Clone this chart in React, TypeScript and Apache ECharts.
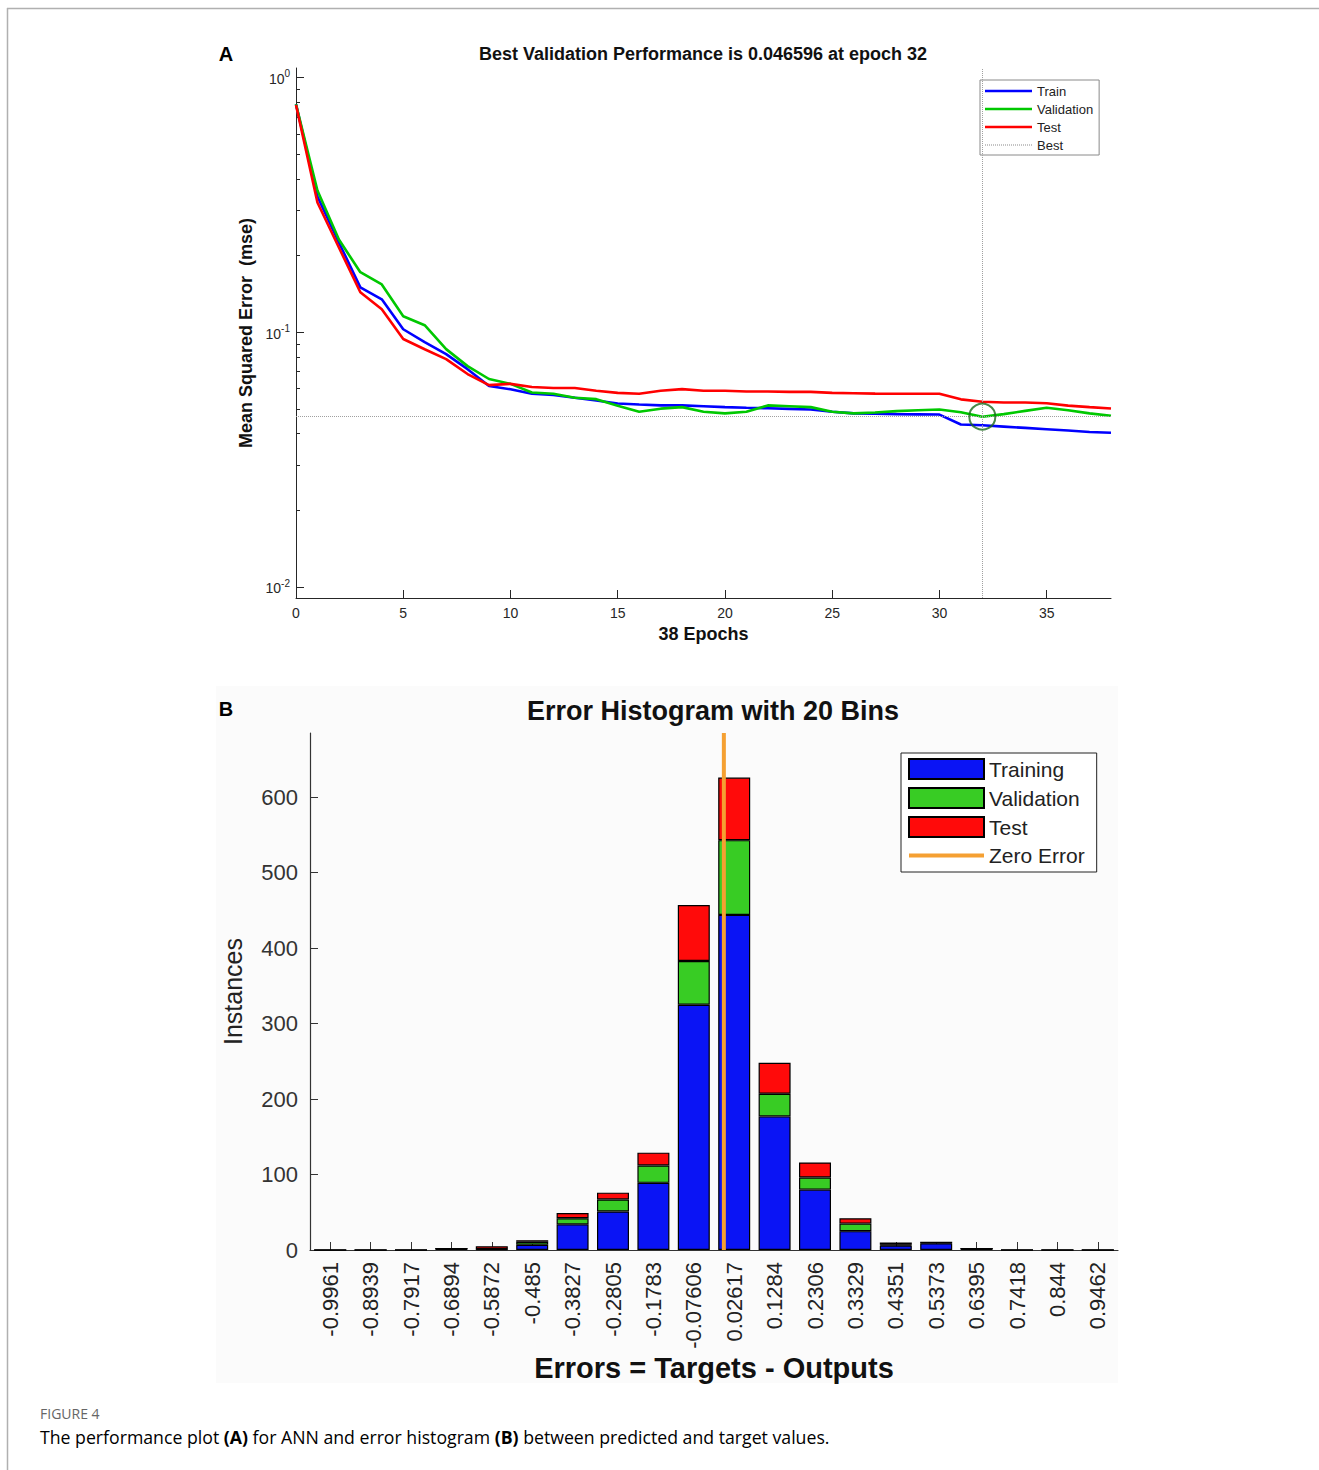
import React, { useEffect, useRef } from "react";
import * as echarts from "echarts";

// ---------- Panel A: performance ----------
const epochs = [0, 1, 2, 3, 4, 5, 6, 7, 8, 9, 10, 11, 12, 13, 14, 15, 16, 17, 18, 19, 20, 21, 22, 23, 24, 25, 26, 27, 28, 29, 30, 31, 32, 33, 34, 35, 36, 37, 38];
const trainPerf = [0.785, 0.341, 0.225, 0.150, 0.1346, 0.1027, 0.0914, 0.082, 0.0716, 0.0615, 0.0597, 0.0573, 0.0567, 0.0553, 0.0539, 0.0525, 0.052, 0.0516, 0.0516, 0.0512, 0.0508, 0.0505, 0.0503, 0.05, 0.0497, 0.0487, 0.048, 0.0479, 0.0477, 0.0476, 0.0475, 0.0434, 0.0431, 0.0426, 0.0421, 0.0416, 0.0411, 0.0406, 0.0403];
const validationPerf = [0.785, 0.36, 0.231, 0.172, 0.154, 0.1155, 0.1065, 0.0858, 0.0736, 0.0655, 0.0627, 0.058, 0.0573, 0.0553, 0.0546, 0.0514, 0.0487, 0.0501, 0.0508, 0.0487, 0.048, 0.0487, 0.0516, 0.0512, 0.0508, 0.0487, 0.048, 0.0484, 0.049, 0.0494, 0.0497, 0.0485, 0.046596, 0.0477, 0.0491, 0.0505, 0.0494, 0.048, 0.047];
const testPerf = [0.78, 0.323, 0.215, 0.1435, 0.123, 0.094, 0.0857, 0.0784, 0.0685, 0.062, 0.0627, 0.0609, 0.0604, 0.0604, 0.0589, 0.0578, 0.0573, 0.0589, 0.0598, 0.0589, 0.0589, 0.0585, 0.0585, 0.0583, 0.0583, 0.0578, 0.0576, 0.0574, 0.0573, 0.0573, 0.0573, 0.0545, 0.0533, 0.053, 0.053, 0.0526, 0.0515, 0.0508, 0.0502];
const bestEpoch = 32;
const bestPerf = 0.046596;
const epochTicks = [0, 5, 10, 15, 20, 25, 30, 35];
const logMajorTicks = [0.01, 0.1, 1];
const logMinorTicks = [0.02, 0.03, 0.04, 0.05, 0.06, 0.07, 0.08, 0.09, 0.2, 0.3, 0.4, 0.5, 0.6, 0.7, 0.8, 0.9];
const perfYMin = 0.00905;
const perfYMax = 1.089;

// ---------- Panel B: error histogram ----------
const binCenters = [-0.9961, -0.8939, -0.7917, -0.6894, -0.5872, -0.485, -0.3827, -0.2805, -0.1783, -0.07606, 0.02617, 0.1284, 0.2306, 0.3329, 0.4351, 0.5373, 0.6395, 0.7418, 0.844, 0.9462];
const trainingCounts = [0, 0, 0, 2, 1, 7, 34, 51, 89, 325, 444, 177, 80, 25, 6, 9, 2, 0, 0, 0];
const validationCounts = [0, 0, 0, 0, 0, 4, 8, 16, 23, 58, 99, 30, 16, 10, 1, 1, 0, 0, 0, 0];
const testCounts = [0, 0, 0, 0, 4, 2, 7, 9, 17, 74, 83, 41, 20, 7, 3, 0, 0, 0, 0, 0];
const countTicks = [0, 100, 200, 300, 400, 500, 600];
const histYMax = 685;
const zeroError = 0;

const FONT = "'Liberation Sans', Arial, Helvetica, sans-serif";
const AXIS = "#262626";

function dottedIcon(width: number): string {
  let d = "path://";
  for (let x = 0; x < width; x += 2) d += `M${x},0h1v1h-1z`;
  return d;
}

function buildOption(): any {
  const binW = (binCenters[binCenters.length - 1] - binCenters[0]) / (binCenters.length - 1);
  const pair = (arr: number[]) => arr.map((v, i) => [epochs[i], v]);
  const supLabel = (v: number) => `{b|10}{s|${Math.round(Math.log10(v))}}`;
  const perfLineIcon = "path://M0,0L47,0L47,2.6L0,2.6Z";
  const zeroLineIcon = "path://M0,0L75,0L75,4L0,4Z";

  return {
    animation: false,
    backgroundColor: "#ffffff",
    textStyle: { fontFamily: FONT },
    grid: [
      { left: 296, top: 68, width: 815, height: 530, containLabel: false },
      { left: 310, top: 733, width: 808, height: 517, containLabel: false },
    ],
    legend: [
      {
        data: [
          { name: "Train", icon: perfLineIcon },
          { name: "Validation", icon: perfLineIcon },
          { name: "Test", icon: perfLineIcon },
          { name: "Best", icon: dottedIcon(47) },
        ],
        orient: "vertical",
        left: 980,
        top: 80,
        itemWidth: 47,
        itemHeight: 14,
        itemGap: 4,
        padding: [4, 6, 3, 5],
        borderColor: "#8a8a8a",
        borderWidth: 1,
        backgroundColor: "#ffffff",
        textStyle: { fontSize: 13, lineHeight: 14, color: "#222", fontFamily: FONT },
        selectedMode: false,
      },
      {
        data: [
          { name: "Training", icon: "rect" },
          { name: "Hist Validation", icon: "rect" },
          { name: "Hist Test", icon: "rect" },
          { name: "Zero Error", icon: zeroLineIcon },
        ],
        formatter: (name: string) => name.replace("Hist ", ""),
        orient: "vertical",
        left: 901,
        top: 753,
        itemWidth: 75,
        itemHeight: 20,
        itemGap: 7,
        padding: [5, 12, 6, 7],
        borderColor: "#222",
        borderWidth: 1,
        backgroundColor: "#ffffff",
        textStyle: { fontSize: 21, lineHeight: 20, color: "#222", fontFamily: FONT },
        selectedMode: false,
      },
    ],
    xAxis: [
      {
        gridIndex: 0,
        type: "value",
        min: epochs[0],
        max: epochs[epochs.length - 1],
        name: "38 Epochs",
        nameLocation: "middle",
        nameGap: 27,
        nameTextStyle: { fontSize: 18, fontWeight: "bold", color: "#111", fontFamily: FONT },
        axisLine: { show: true, onZero: false, lineStyle: { color: AXIS, width: 1 } },
        axisTick: { show: true, inside: true, length: 8, customValues: epochTicks, lineStyle: { color: AXIS } },
        axisLabel: { customValues: epochTicks, fontSize: 14, color: AXIS, margin: 8 },
        splitLine: { show: false },
      },
      {
        gridIndex: 1,
        type: "category",
        data: binCenters.map((v) => String(v)),
        boundaryGap: true,
        name: "Errors = Targets - Outputs",
        nameLocation: "middle",
        nameGap: 103,
        nameTextStyle: { fontSize: 29, fontWeight: "bold", color: "#111", fontFamily: FONT },
        axisLine: { show: true, onZero: false, lineStyle: { color: "#333", width: 1.2 } },
        axisTick: { show: true, inside: true, length: 8, alignWithLabel: true, lineStyle: { color: "#333" } },
        axisLabel: { rotate: 90, interval: 0, fontSize: 22, color: "#222", margin: 12 },
        splitLine: { show: false },
      },
      {
        gridIndex: 1,
        type: "value",
        show: false,
        min: binCenters[0] - binW / 2,
        max: binCenters[binCenters.length - 1] + binW / 2,
        axisLine: { onZero: false },
        splitLine: { show: false },
      },
    ],
    yAxis: [
      {
        gridIndex: 0,
        type: "log",
        logBase: 10,
        position: "left",
        min: perfYMin,
        max: perfYMax,
        name: "Mean Squared Error  (mse)",
        nameLocation: "middle",
        nameGap: 41,
        nameTextStyle: { fontSize: 18, fontWeight: "bold", color: "#111", fontFamily: FONT },
        axisLine: { show: true, onZero: false, lineStyle: { color: AXIS, width: 1 } },
        axisTick: { show: true, inside: true, length: 8, customValues: logMajorTicks, lineStyle: { color: AXIS } },
        axisLabel: {
          customValues: logMajorTicks,
          margin: 6,
          formatter: supLabel,
          rich: {
            b: { fontSize: 14, color: AXIS, fontFamily: FONT, verticalAlign: "bottom" },
            s: { fontSize: 10, color: AXIS, fontFamily: FONT, verticalAlign: "bottom", padding: [0, 0, 7, 0] },
          },
        },
        splitLine: { show: false },
      },
      {
        gridIndex: 0,
        type: "log",
        logBase: 10,
        position: "left",
        offset: 0,
        min: perfYMin,
        max: perfYMax,
        axisLine: { show: false, onZero: false },
        axisTick: { show: true, inside: true, length: 4, customValues: logMinorTicks, lineStyle: { color: AXIS } },
        axisLabel: { show: false },
        splitLine: { show: false },
      },
      {
        gridIndex: 1,
        type: "value",
        position: "left",
        min: 0,
        max: histYMax,
        name: "Instances",
        nameLocation: "middle",
        nameGap: 65,
        nameTextStyle: { fontSize: 25, color: "#222", fontFamily: FONT },
        axisLine: { show: true, onZero: false, lineStyle: { color: "#333", width: 1.2 } },
        axisTick: { show: true, inside: true, length: 8, customValues: countTicks, lineStyle: { color: "#333" } },
        axisLabel: { customValues: countTicks, fontSize: 22, color: "#333", margin: 12 },
        splitLine: { show: false },
      },
    ],
    series: [
      {
        name: "Best",
        type: "line",
        xAxisIndex: 0,
        yAxisIndex: 0,
        data: [[bestEpoch, bestPerf]],
        symbol: "none",
        lineStyle: { type: "dotted", color: "#9a9a9a", width: 1 },
        itemStyle: { color: "#8a8a8a" },
        markLine: {
          silent: true,
          precision: 6,
          symbol: ["none", "none"],
          label: { show: false },
          lineStyle: { type: "dotted", color: "#a0a0a0", width: 1 },
          data: [{ xAxis: bestEpoch }, { yAxis: bestPerf }],
        },
      },
      {
        name: "Train",
        type: "line",
        xAxisIndex: 0,
        yAxisIndex: 0,
        data: pair(trainPerf),
        symbol: "none",
        lineStyle: { color: "#0000ff", width: 2.6 },
        itemStyle: { color: "#0000ff" },
      },
      {
        name: "Validation",
        type: "line",
        xAxisIndex: 0,
        yAxisIndex: 0,
        data: pair(validationPerf),
        symbol: "none",
        lineStyle: { color: "#00c800", width: 2.6 },
        itemStyle: { color: "#00c800" },
      },
      {
        name: "Test",
        type: "line",
        xAxisIndex: 0,
        yAxisIndex: 0,
        data: pair(testPerf),
        symbol: "none",
        lineStyle: { color: "#ff0000", width: 2.6 },
        itemStyle: { color: "#ff0000" },
      },
      {
        name: "Best Circle",
        type: "scatter",
        xAxisIndex: 0,
        yAxisIndex: 0,
        data: [[bestEpoch, bestPerf]],
        symbol: "circle",
        symbolSize: 26,
        itemStyle: { color: "rgba(0,0,0,0)", borderColor: "#1c6a1c", borderWidth: 2 },
        z: 5,
      },
      {
        name: "Training",
        type: "bar",
        xAxisIndex: 1,
        yAxisIndex: 2,
        stack: "err",
        barWidth: 32,
        data: trainingCounts,
        itemStyle: { color: "#0a14f5", borderColor: "#000", borderWidth: 1.2 },
      },
      {
        name: "Hist Validation",
        type: "bar",
        xAxisIndex: 1,
        yAxisIndex: 2,
        stack: "err",
        barWidth: 32,
        data: validationCounts,
        itemStyle: { color: "#38cc24", borderColor: "#000", borderWidth: 1.2 },
      },
      {
        name: "Hist Test",
        type: "bar",
        xAxisIndex: 1,
        yAxisIndex: 2,
        stack: "err",
        barWidth: 32,
        data: testCounts,
        itemStyle: { color: "#ff0a0a", borderColor: "#000", borderWidth: 1.2 },
      },
      {
        name: "Zero Error",
        type: "line",
        xAxisIndex: 2,
        yAxisIndex: 2,
        data: [[zeroError, 0], [zeroError, histYMax]],
        symbol: "none",
        lineStyle: { color: "#f5a032", width: 4 },
        itemStyle: { color: "#f5a032" },
        z: 6,
      },
    ],
    graphic: [
      { type: "rect", z: -10, shape: { x: 216, y: 686, width: 902, height: 697 }, style: { fill: "#fbfbfb" } },
      { type: "line", shape: { x1: 7, y1: 8.5, x2: 1319, y2: 8.5 }, style: { stroke: "#b0b0b0", lineWidth: 1.5 } },
      { type: "line", shape: { x1: 7.5, y1: 8, x2: 7.5, y2: 1470 }, style: { stroke: "#b0b0b0", lineWidth: 1.5 } },
      {
        type: "text",
        x: 226,
        y: 54,
        style: { text: "A", font: `bold 20px ${FONT}`, fill: "#000", textAlign: "center", textVerticalAlign: "middle" },
      },
      {
        type: "text",
        x: 703,
        y: 54,
        style: {
          text: `Best Validation Performance is ${bestPerf} at epoch ${bestEpoch}`,
          font: `bold 18px ${FONT}`,
          fill: "#111",
          textAlign: "center",
          textVerticalAlign: "middle",
        },
      },
      {
        type: "text",
        x: 226,
        y: 709,
        style: { text: "B", font: `bold 20px ${FONT}`, fill: "#000", textAlign: "center", textVerticalAlign: "middle" },
      },
      {
        type: "text",
        x: 713,
        y: 711,
        style: {
          text: `Error Histogram with ${binCenters.length} Bins`,
          font: `bold 27px ${FONT}`,
          fill: "#111",
          textAlign: "center",
          textVerticalAlign: "middle",
        },
      },
      {
        type: "text",
        x: 40,
        y: 1413,
        style: { text: "FIGURE 4", font: `14px 'Open Sans', sans-serif`, fill: "#666", textVerticalAlign: "middle" },
      },
      {
        type: "text",
        x: 40,
        y: 1437,
        style: {
          text: "{n|The performance plot }{b|(A)}{n| for ANN and error histogram }{b|(B)}{n| between predicted and target values.}",
          textVerticalAlign: "middle",
          rich: {
            n: { fontSize: 17.7, fontFamily: "'Open Sans', sans-serif", color: "#6a6a6a" },
            b: { fontSize: 17.7, fontFamily: "'Open Sans', sans-serif", fontWeight: "bold", color: "#555" },
          },
        },
      },
    ],
  };
}

export default function App() {
  const ref = useRef<HTMLDivElement>(null);
  useEffect(() => {
    if (!ref.current) return;
    const chart = echarts.init(ref.current, null, { renderer: "svg" });
    chart.setOption(buildOption());
    return () => chart.dispose();
  }, []);
  return (
    <div
      ref={ref}
      style={{ position: "absolute", left: 0, top: 0, width: 1319, height: 1470, background: "#fff" }}
    />
  );
}
